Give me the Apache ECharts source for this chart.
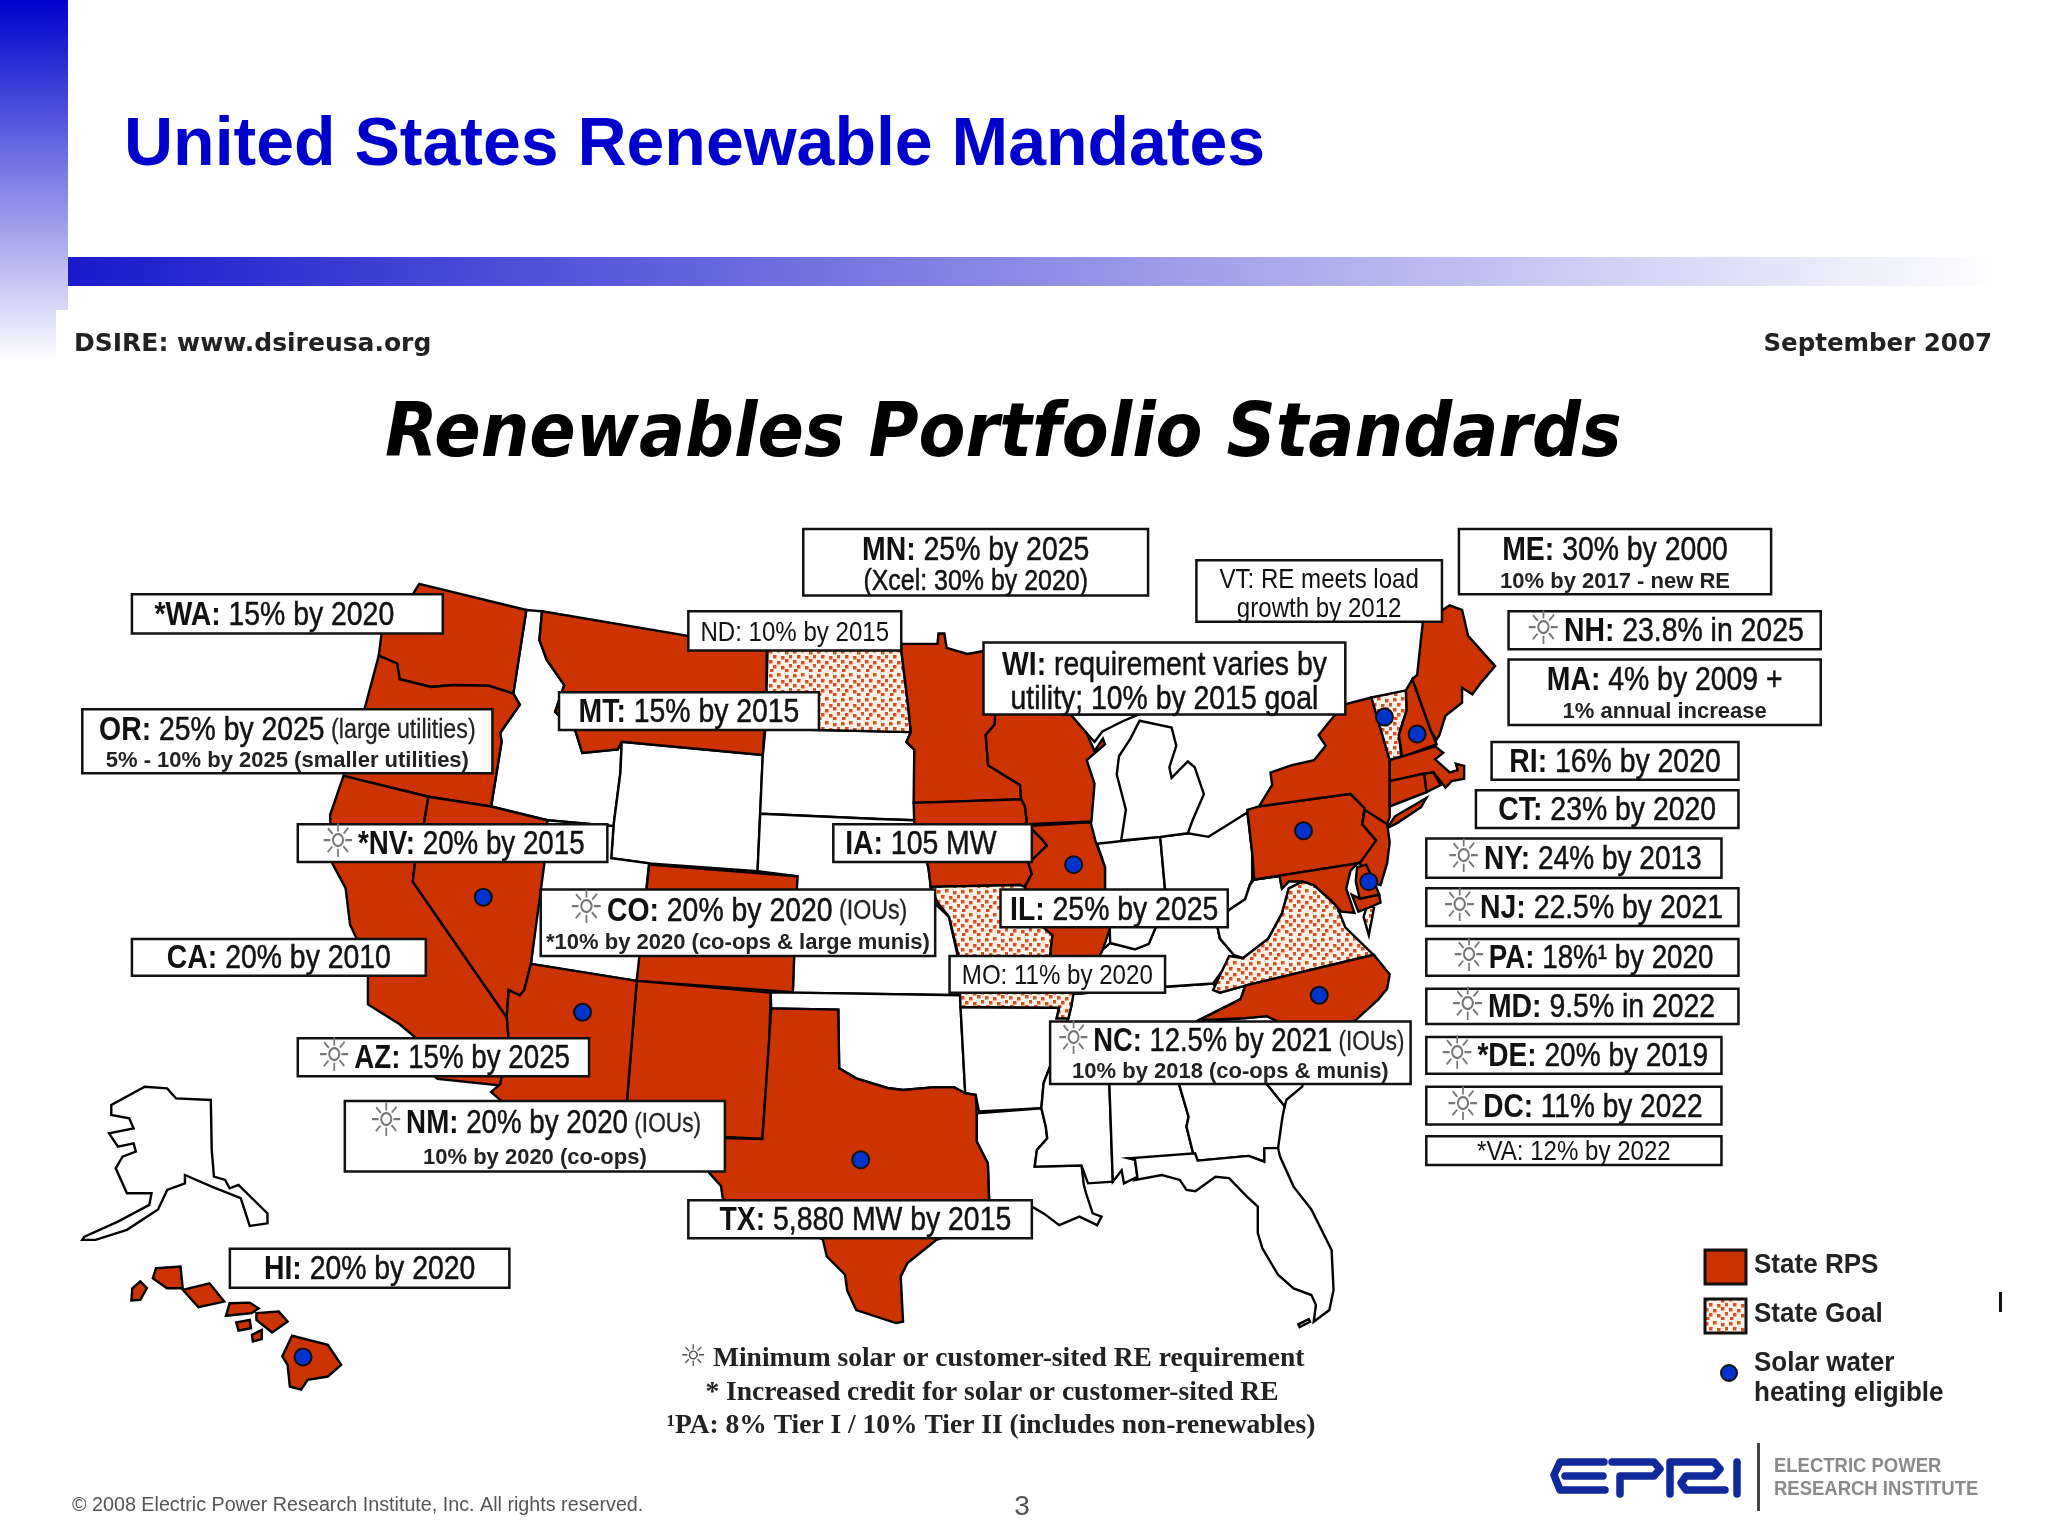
<!DOCTYPE html>
<html>
<head>
<meta charset="utf-8">
<title>United States Renewable Mandates</title>
<style>html,body{margin:0;background:#fff}#main{width:2048px;height:1536px}</style>
<script src="https://cdn.jsdelivr.net/npm/echarts@6/dist/echarts.min.js"></script>
</head>
<body>
<div id="main"></div>
<script>
// which state belongs to which category
const rpsStates = ['WA','OR','CA','NV','MT','MN','WI','IA','IL','AZ','NM','CO','TX','NY','PA','NJ','MD','DE','ME','NH','MA','CT','RI','NC','HI']
const goalStates = ['ND','MO','VA','VT']
// solar water heating eligible markers, map units
const solarNames = ['NV','AZ','TX','HI','IL','PA','NC','VT','NH','DE']
const solarPoints = [[370,687],[446,775],[659,888],[232,1039],[822,662],[998,636],[1010,762],[1060,549],[1085,562],[1048,675]]

// callout text
const calloutNames = ['*WA','OR','*NV','CO','CA','AZ','NM','TX','HI','MN','ND','MT','IA','IL','MO','WI','VT','NC','ME','NH','MA','RI','CT','NY','NJ','PA','MD','*DE','DC','*VA']
const calloutMain = ['15% by 2020','25% by 2025','20% by 2015','20% by 2020','20% by 2010','15% by 2025','20% by 2020','5,880 MW by 2015','20% by 2020','25% by 2025','10% by 2015','15% by 2015','105 MW','25% by 2025','11% by 2020','requirement varies by','RE meets load','12.5% by 2021','30% by 2000','23.8% in 2025','4% by 2009 +','16% by 2020','23% by 2020','24% by 2013','22.5% by 2021','18%¹ by 2020','9.5% in 2022','20% by 2019','11% by 2022','12% by 2022']
const calloutTail = {OR:'(large utilities)',CO:'(IOUs)',NM:'(IOUs)',NC:'(IOUs)'}
const calloutNote = {OR:'5% - 10% by 2025 (smaller utilities)',CO:'*10% by 2020 (co-ops & large munis)',NM:'10% by 2020 (co-ops)',NC:'10% by 2018 (co-ops & munis)',ME:'10% by 2017 - new RE',MA:'1% annual increase'}
const calloutSecond = {MN:'(Xcel: 30% by 2020)',WI:'utility; 10% by 2015 goal',VT:'growth by 2012'}
const sunStates = ['*NV','CO','AZ','NM','NC','NH','NY','NJ','PA','MD','*DE','DC']
const plainStates = ['ND','MO','VT','*VA']

const legendLabels = ['State RPS','State Goal','Solar water','heating eligible']
const footnotes = ['Minimum solar or customer-sited RE requirement','* Increased credit for solar or customer-sited RE','¹PA: 8% Tier I / 10% Tier II (includes non-renewables)']

// callout boxes in map units: x1,y1,x2,y2
const calloutBoxes = [[101,455,339,485],[63,543,377,592],[228,631,465,660],[414,681,716,732],[101,719,326,747],[228,795,451,824],[264,843,555,897],[527,919,790,948],[176,956,390,986],[615,405,879,456],[527,468,690,498],[428,530,627,559],[638,631,790,660],[766,681,940,710],[727,732,892,760],[753,492,1030,547],[916,429,1104,476],[804,782,1080,830],[1117,405,1356,455],[1155,468,1394,497],[1155,505,1394,555],[1142,568,1331,597],[1130,605,1331,634],[1092,642,1318,672],[1092,680,1331,709],[1092,719,1331,747],[1092,757,1331,784],[1092,794,1318,822],[1092,832,1318,861],[1092,870,1318,892]]
const calloutShift = {'*WA':-10,IA:-9,TX:4}
const calloutSquash = {NC:0.83,NM:0.84,'*NV':0.84,AZ:0.84,PA:0.84,DC:0.85,'*DE':0.85,NY:0.85}

// state outlines traced in map units (1568 x 1176 sheet, y down)
const stateShapes = {
  ID: [[[403,467],[415,468],[413,490],[418.5,505],[432,524.5],[425,545],[440.7,560],[445.8,576.4],[473,573.7],[476,568],[475,591.5],[469.7,632.5],[419,628],[376,617.5],[384,568],[383,561],[398,539.5],[393,531]]],
  WY: [[[476,568],[584,578],[582,623],[580,667],[497,661],[468,657],[469.7,632.5],[475,591.5]]],
  UT: [[[419,628],[469.7,632.5],[468,657],[497,661],[495,680],[490,735],[487.5,751],[406.5,738]]],
  SD: [[[584,578],[586,558],[697.4,560.5],[694,568],[700,574],[700,628],[672,627],[582,623]]],
  NE: [[[582,623],[672,627],[700,628],[710.8,664],[713,680],[716,692],[609,692],[610.5,671],[580,667]]],
  KS: [[[609,692],[716,692],[726.6,702],[733,731],[735.4,762],[607,760]]],
  OK: [[[590,760],[607,760],[735.4,762],[735.8,778],[739,837],[730.7,832.5],[713.6,832.5],[691.4,834.5],[679.4,833],[655.5,825.6],[642.5,818],[641.8,773],[590.5,772]]],
  AR: [[[735.4,771],[810.9,771.6],[809,779.7],[818,779.7],[802.4,820.5],[799,829.4],[797.3,848.5],[749.5,851],[747,838.3],[739,837],[735.8,778]]],
  LA: [[[747.8,852.4],[797.3,848.5],[800.7,862.6],[801.8,871.5],[793.9,880.4],[792.2,893.2],[828,892.4],[829.8,907],[831.5,913.6],[836.6,929],[843.4,931.5],[840,938],[826.4,931.5],[811,938],[799,929],[790.5,924],[757.3,918.7],[756.3,890.6],[747.8,874]]],
  MS: [[[802.4,820.5],[849,820],[852,904.7],[833,906],[828,892.4],[792.2,893.2],[793.9,880.4],[801.8,871.5],[800.7,862.6],[797.3,848.5],[799,829.4]]],
  AL: [[[849,820],[899,820],[903,831],[910,855],[908.4,862.6],[913.5,883],[916,887],[866,887],[869,888],[870.8,901],[860.5,906],[858.8,896],[852,904.7]]],
  GA: [[[899,820],[960,820],[971.6,832],[983.6,847],[981.9,855],[978.5,879],[968,879],[968,889.4],[956,885],[917,888.6],[913.5,883],[908.4,862.6],[910,855],[903,831]]],
  SC: [[[925,782],[970,778],[1005,795],[997,832],[985,842],[983.6,847],[971.6,832],[960,820],[925,800]]],
  FL: [
    [[917,888.6],[956,885],[968,889.4],[968,879],[978.5,879],[980,885.5],[990.4,908.5],[1004,926],[1019.5,957],[1021,987.6],[1017.8,1003],[1005.8,1012],[1007.5,999],[1004,991.5],[990.4,986.4],[978.5,976],[966.5,955.7],[963,944],[963,923.8],[954.5,916],[941,902],[930.6,900.9],[915.2,912],[908.4,911],[903.3,903.4],[889.6,899.6],[869,903.4],[870.8,901],[869,888],[864,886.8],[915,883]],
    [[994,1014],[1002,1010],[1003,1012],[995,1016]]
  ],
  TN: [[[821,761],[891.8,755.5],[928.8,753],[934,760],[953.4,754.6],[949.9,765],[918,781],[904,795],[850,820],[802.4,820.5],[818,779.7],[820.5,769]]],
  KY: [[[893,695],[920,700],[941,696.7],[932.3,710.4],[934,718.6],[944.6,731],[928.8,753],[891.8,755.5],[821,761],[835,745],[844.4,726.8],[850,722],[869,726.8],[879.5,722.7],[884.7,710.4]]],
  IN: [[[840,646],[888.3,640.7],[891.8,679],[893,695],[884.7,710.4],[879.5,722.7],[869,726.8],[850,722],[849.6,711.7],[846,680],[846,664]]],
  OH: [[[888.3,640.7],[909.4,638],[925.3,640.7],[955,622],[958.7,653],[958.7,673.5],[956.9,677.6],[953.3,688.5],[941,696.7],[920,700],[893,695],[891.8,679]]],
  WV: [[[960,673.5],[979.7,670.7],[981.5,680.3],[986.7,674.8],[997.3,674.8],[986.7,680.3],[981.5,699.4],[971,718.6],[951.6,733.6],[944.6,731],[934,718.6],[932.3,710.4],[941,696.7],[953.3,688.5],[956.9,677.6]]],
  MI: [
    [[872.5,551.8],[897,557],[900.6,571],[895.3,587.4],[897,595.6],[909.4,583],[914.7,587.4],[921.7,608],[912.9,628.4],[909.4,638],[888.3,640.7],[858.4,643.4],[862,620],[855,593],[856.7,579],[865.5,565.5]],
    [[819.7,549],[832,561.4],[838,568],[844,560],[860,552],[872,547],[819.7,547]]
  ],
  AK: [[[110.8,832],[128,833.3],[134.8,841],[161.4,842.2],[162.1,880.5],[163.8,900.9],[172.4,903.4],[175.8,909.8],[182.6,907.2],[204.8,929],[204.8,936.6],[191.2,938.6],[184.3,917.4],[162.1,908.5],[141.6,899.6],[141.6,906],[128,911],[121,926],[97.2,941.6],[73.2,949.3],[63,949.3],[64.7,946.8],[90.3,935.3],[114.3,922.5],[116,913.6],[97.2,913.6],[88.6,894.5],[93.8,885.6],[104,881.7],[102.3,875.4],[90.3,878],[83.5,867.7],[102.3,863.9],[98.9,856.2],[85.2,853.7],[85.2,846]]],
  WA: [[[321,447],[403,467],[393,531],[374,525],[347,524.5],[330,526],[306,520],[304,508],[290,502],[292,486],[290,455],[316,455]]],
  OR: [[[290,502],[304,508],[306,520],[330,526],[347,524.5],[374,525],[393,531],[398,539.5],[383,561],[384,568],[376,617.5],[328,610],[263,594],[270,570],[280,539.5]]],
  CA: [[[263,594],[328,610],[324.5,631],[317.6,661],[316,675],[388,779],[389.4,795],[383,831],[335,826],[330,822],[317.6,794],[305.7,784],[281.7,769],[281.7,747],[273,718.6],[268,708],[264.6,680],[254.4,661],[252.7,624]]],
  NV: [[[328,610],[376,617.5],[419,628],[416.8,661],[406.5,737.7],[401.4,758],[398,762],[389.4,758],[388,779],[316,675],[317.6,661],[324.5,631]]],
  MT: [[[415,468],[587,497],[587,530],[584,578],[476,568],[473,573.7],[445.8,576.4],[440.7,560],[425,545],[432,524.5],[418.5,505],[413,490]]],
  ND: [[[587.7,497],[690,497],[695,538],[697.4,560.5],[586,558]]],
  CO: [[[497,662],[610.5,671],[607,759.6],[487.5,751]]],
  NM: [[[487.5,751],[590,760],[588.8,804],[583.7,872],[510,868],[510,880],[482,876],[480,843]]],
  AZ: [[[406.5,738],[487.5,751],[480,843],[482,876],[440,875],[384,843],[376,836],[383,830],[389.4,795],[388,779],[389.4,758],[398,762],[401.4,758]]],
  TX: [[[590.5,772],[641.8,773],[642.5,818],[655.5,825.6],[679.4,833],[691.4,834.5],[713.6,832.5],[730.7,832.5],[739,837],[747,838.3],[747.8,852.4],[747.8,874],[756.3,890.6],[757.3,918.7],[760,935],[717,949.3],[694.8,967],[689.6,977.4],[691.4,1012],[686,1013],[655.5,1003],[648.6,988],[647,976],[633,962],[630,949],[600,935],[575,925],[553.5,918],[552,908],[543,898],[538,871],[583.7,872]]],
  MN: [[[690,498],[690.4,493],[717.8,493],[718.5,485],[723,485],[724.8,496],[740.6,500.7],[753,498.5],[775,510],[762,545],[761.7,554.5],[754.7,562.7],[756.5,586],[781,601],[781.8,612],[699.5,614.7],[700,574],[694,568],[697.4,560.5],[695,538]]],
  WI: [[[762,545],[819.7,547],[832,561.4],[838,575],[844.4,565.5],[846,570],[832,582],[838,600],[835.6,629],[786.3,631],[784.6,617],[781.8,612],[781,601],[756.5,586],[754.7,562.7],[761.7,554.5]]],
  IA: [[[699.5,614.7],[781.8,612],[784.6,617.4],[786.3,631],[798.6,643.4],[801.5,647.5],[791.6,657],[787.4,661],[790,669],[784.6,679],[781,677.6],[712.5,679],[710.8,664],[700,630]]],
  IL: [[[786.3,631],[791.6,632],[835,629.5],[839,644.8],[846,664],[846,680],[849.6,711.7],[844.4,726.8],[835,745],[820,745],[804,731],[805.7,716],[798.6,710],[784.6,679],[790,669],[787.4,661],[791.6,657],[801.5,647.5],[798.6,643.4]]],
  MO: [[[712.5,679],[781,677.6],[784.6,679],[798.6,710],[805.7,716],[804,731],[822,760],[820.5,769],[818,779.7],[809,779.7],[810.9,771.6],[735.4,771],[733.6,731],[726.6,702],[717.8,691]]],
  VA: [
    [[928.8,758],[941,732],[951.6,733.6],[971,718.6],[981.5,699.4],[986.7,680.3],[997.3,674.8],[1006,677.6],[1023.7,694],[1030,710],[1050,729.5],[1051.8,731],[953.4,754.6],[934,760]],
    [[1047,692],[1052,695],[1048,716],[1044,702]]
  ],
  NC: [[[1051.8,731],[1064,746],[1062,757],[1055,765.6],[1038,781],[1005,795],[970,778],[953,779.6],[918,781],[949.9,765],[953.4,754.6]]],
  PA: [[[955,620],[963.9,617.4],[1034,607.8],[1044.8,618.8],[1043,631],[1053.6,643.4],[1046.5,657],[1039.5,661],[960.3,673.5],[958.7,653]]],
  NY: [
    [[963.9,617.4],[974,601],[972.7,591.5],[988.5,586],[1006,582],[1015,571],[1009.6,562.7],[1018.4,551.8],[1029,539.5],[1050,534],[1064,582],[1064,625.6],[1062,631],[1043,631],[1044.8,618.8],[1034,607.8]],
    [[1062,634],[1068,625],[1092,611],[1088,618],[1070,630]]
  ],
  VT: [[[1050,534],[1076.4,528.6],[1077,543.6],[1071,562.7],[1073,579],[1064,582]]],
  NH: [[[1076.4,528.6],[1081.4,520],[1095.6,559.8],[1100,569.8],[1073.5,579.7],[1071,562.7],[1077,543.6]]],
  ME: [[[1109.9,463.5],[1119.4,466.9],[1124,486.8],[1144.7,510],[1133.6,523],[1127.3,531.6],[1119.4,526.6],[1119.4,538],[1106.7,548],[1102,563],[1099.7,566.5],[1095.6,559.8],[1081.4,520],[1085,516.7],[1089.3,476.8]]],
  MA: [[[1064,582],[1072,579.7],[1098.8,571.4],[1105,576.4],[1098.8,581.4],[1109.9,591.4],[1116,589.7],[1114.6,584.7],[1121,586.4],[1121,596.3],[1111.4,598],[1106.7,603],[1097.5,591.5],[1090.5,592.3],[1064,598]]],
  CT: [[[1064,598],[1090.5,592.3],[1092.2,606.5],[1064,617.4]]],
  RI: [[[1090.5,592.3],[1097.5,591.5],[1103,601],[1092.2,606.5]]],
  NJ: [[[1044.8,620],[1062,631],[1064,644.8],[1062,661],[1057,677.6],[1050,676],[1041,661],[1053.6,643.4],[1043,631]]],
  MD: [
    [[960.3,673.5],[1039.5,661],[1034,666.6],[1030.7,680.3],[1037,699],[1027,698],[1020,690],[1006,677.6],[997.3,674.8],[986.7,674.8],[981.5,680.3],[979.7,670.7]],
    [[1041,688],[1056,685],[1057,691],[1048,695],[1040,698],[1035,685]]
  ],
  DE: [[[1039,664],[1046,662],[1052,675],[1056,685],[1041,688],[1038,675]]],
  HI: [
    [[107.4,981],[112.5,986.3],[107.4,995.2],[100.6,995.7],[101.3,986.3]],
    [[119.4,971],[138.2,969.7],[139.9,986.3],[127.9,986.3],[117,978.6]],
    [[139.9,987.5],[160.4,982.5],[171.7,996.5],[151.9,1000.8]],
    [[175.8,997.8],[191.2,997.3],[198,1001.6],[192.9,1005.4],[173,1007.4]],
    [[196.3,1005.4],[213.4,1004.1],[220.2,1011.8],[208.3,1020.2],[196.3,1010.5]],
    [[180.9,1012.5],[191.2,1010.5],[192.2,1016.9],[182.6,1018.7]],
    [[192.9,1022],[200.4,1018.2],[200.4,1025.3],[193.6,1027]],
    [[223.6,1022.7],[251,1029.6],[261.2,1045],[251,1053.9],[235.6,1056.4],[230.5,1064],[221.9,1061.5],[220.2,1045],[216.1,1038.5]]
  ]
}

const SANS = '"Liberation Sans"'
const RED = '#cc3300'
const BLUE = '#0033cc'
const K = 2048 / 1568

// dotted fill for State Goal
const makeGoalPattern = () => {
  const c = document.createElement('canvas')
  c.width = 24
  c.height = 24
  const g = c.getContext('2d')
  g.fillStyle = '#fff4ec'
  g.fillRect(0, 0, 24, 24)
  g.fillStyle = '#dd4f1e'
  const dots = [[1,2],[9,1],[17,3],[5,7],[13,8],[21,7],[1,12],[9,13],[17,11],[5,17],[13,18],[21,16],[2,21],[17,21]]
  dots.forEach(d => g.fillRect(d[0], d[1], 3.5, 3.5))
  return {image: c, repeat: 'repeat'}
}
const goalFill = makeGoalPattern()

const features = Object.keys(stateShapes).map(name => ({
  type: 'Feature',
  properties: {name: name},
  geometry: {type: 'MultiPolygon', coordinates: stateShapes[name].map(r => [r])}
}))
echarts.registerMap('usa', {type: 'FeatureCollection', features: features})

const sx = 0.86
const calloutRich = (size, plain) => ({
  b: {fontFamily: SANS, fontWeight: plain ? 'normal' : 'bold', fontSize: size, fill: '#111'},
  m: {fontFamily: SANS, fontSize: size, fill: '#111', stroke: '#111', lineWidth: plain ? 0 : 0.5},
  t: {fontFamily: SANS, fontSize: 27, fill: '#222', stroke: '#222', lineWidth: 0.3},
  sun: {fontFamily: '"DejaVu Sans"', fontSize: 46, fill: '#777'}
})

const renderCallout = (params, api) => {
  const i = params.dataIndex
  const name = calloutNames[i]
  const key = name.replace('*', '')
  const box = calloutBoxes[i]
  const p1 = api.coord([box[0], box[1]])
  const p2 = api.coord([box[2], box[3]])
  const w = p2[0] - p1[0]
  const h = p2[1] - p1[1]
  const cx = p1[0] + w / 2 + (calloutShift[name] || 0) * K
  const plain = plainStates.indexOf(name) >= 0
  const size = plain ? 28 : 33
  const second = calloutSecond[key]
  const note = calloutNote[key]
  const twoLines = second || note

  let text = `{b|${name}:}{m| ${calloutMain[i]}}`
  if (sunStates.indexOf(name) >= 0) text = `{sun|☼} ` + text
  if (calloutTail[key]) text += `{t| ${calloutTail[key]}}`

  const children = [{
    type: 'rect',
    shape: {x: p1[0], y: p1[1], width: w, height: h},
    style: {fill: '#fff', stroke: '#111', lineWidth: 2.5}
  }, {
    type: 'text',
    x: cx,
    y: p1[1] + h * (twoLines ? 0.3 : 0.5) + 2,
    scaleX: calloutSquash[name] || sx,
    style: {text: text, rich: calloutRich(size, plain), align: 'center', verticalAlign: 'middle', fill: '#111'}
  }]
  if (second) {
    children.push({
      type: 'text',
      x: cx,
      y: p1[1] + h * 0.77 + 2,
      scaleX: sx,
      style: {text: second, fontFamily: SANS, fontSize: key === 'WI' ? 33 : (key === 'MN' ? 29 : 28), fill: '#111', stroke: '#111', lineWidth: key === 'VT' ? 0 : 0.5, align: 'center', verticalAlign: 'middle'}
    })
  }
  if (note) {
    children.push({
      type: 'text',
      x: cx,
      y: p1[1] + h * 0.79 + 1,
      style: {text: note, fontFamily: SANS, fontWeight: 'bold', fontSize: 22, fill: '#222', align: 'center', verticalAlign: 'middle'}
    })
  }
  return {type: 'group', children: children}
}

const label = (text, x, y, font, fill, align, scaleX) => ({
  type: 'text',
  x: x,
  y: y,
  scaleX: scaleX || 1,
  z: 5,
  style: {text: text, font: font, fill: fill, align: align || 'left', verticalAlign: 'middle'}
})

const logoLine = (points) => ({
  type: 'polyline',
  z: 5,
  shape: {points: points},
  style: {stroke: '#102a9c', lineWidth: 7.5, fill: 'none', lineCap: 'round', lineJoin: 'round'}
})

const slideParts = [
  {type: 'rect', shape: {x: 0, y: 0, width: 68, height: 362}, style: {fill: new echarts.graphic.LinearGradient(0, 0, 0, 1, [{offset: 0, color: '#0000cc'}, {offset: 1, color: '#ffffff'}])}},
  {type: 'rect', shape: {x: 56, y: 310, width: 20, height: 60}, style: {fill: '#fff'}},
  {type: 'rect', shape: {x: 68, y: 257, width: 1932, height: 29}, style: {fill: new echarts.graphic.LinearGradient(0, 0, 1, 0, [{offset: 0, color: '#1a1acc'}, {offset: 1, color: '#ffffff'}])}},
  label('United States Renewable Mandates', 124, 146, `bold 68px ${SANS}`, '#0000cc'),
  label('DSIRE: www.dsireusa.org', 74, 344, 'bold 25px "DejaVu Sans"', '#222'),
  label('September 2007', 1992, 344, 'bold 25px "DejaVu Sans"', '#222', 'right', 0.98),
  label('Renewables Portfolio Standards', 385, 437, 'italic bold 75px "DejaVu Sans"', '#000', 'left', 0.912),
  label('☼', 693, 1358, '30px "DejaVu Sans"', '#555', 'center'),
  label(footnotes[0], 713, 1359, 'bold 27.5px "Liberation Serif"', '#222'),
  label(footnotes[1], 992, 1393, 'bold 27.5px "Liberation Serif"', '#222', 'center'),
  label(footnotes[2], 991, 1426, 'bold 27.5px "Liberation Serif"', '#222', 'center'),
  {type: 'rect', z: 5, shape: {x: 1705, y: 1250, width: 41, height: 34}, style: {fill: RED, stroke: '#111', lineWidth: 3}},
  {type: 'rect', z: 5, shape: {x: 1705, y: 1299, width: 41, height: 34}, style: {fill: goalFill, stroke: '#111', lineWidth: 3}},
  {type: 'circle', z: 5, shape: {cx: 1729, cy: 1373, r: 8}, style: {fill: BLUE, stroke: '#111', lineWidth: 2}},
  label(legendLabels[0], 1754, 1265, `bold 28px ${SANS}`, '#222', 'left', 0.93),
  label(legendLabels[1], 1754, 1314, `bold 28px ${SANS}`, '#222', 'left', 0.93),
  label(legendLabels[2], 1754, 1363, `bold 28px ${SANS}`, '#222', 'left', 0.93),
  label(legendLabels[3], 1754, 1393, `bold 28px ${SANS}`, '#222', 'left', 0.93),
  {type: 'rect', z: 5, shape: {x: 1999, y: 1292, width: 3, height: 20}, style: {fill: '#111'}},
  label('© 2008 Electric Power Research Institute, Inc. All rights reserved.', 72, 1505, `20px ${SANS}`, '#555', 'left', 0.986),
  label('3', 1022, 1507, `28px ${SANS}`, '#555', 'center'),
  logoLine([[1604,1462],[1560,1462],[1554,1475],[1560,1490],[1605,1490]]),
  logoLine([[1565,1476],[1603,1476]]),
  logoLine([[1612,1462],[1654,1462],[1660,1469],[1654,1476],[1620,1476],[1620,1494]]),
  logoLine([[1670,1494],[1670,1462],[1714,1462],[1720,1469],[1714,1476],[1686,1476],[1681,1483],[1686,1490],[1725,1490]]),
  logoLine([[1737,1462],[1737,1494]]),
  {type: 'rect', z: 5, shape: {x: 1757, y: 1443, width: 3, height: 68}, style: {fill: '#444'}},
  label('ELECTRIC POWER', 1774, 1466, `bold 21px ${SANS}`, '#8a8a8a', 'left', 0.88),
  label('RESEARCH INSTITUTE', 1774, 1489, `bold 21px ${SANS}`, '#8a8a8a', 'left', 0.88)
]

const chart = echarts.init(document.getElementById('main'))
chart.setOption({
  animation: false,
  backgroundColor: '#fff',
  graphic: {elements: slideParts},
  geo: {
    map: 'usa',
    silent: true,
    aspectScale: 1,
    layoutCenter: ['50%', '50%'],
    layoutSize: 2048,
    boundingCoords: [[0, 0], [1568, 1176]],
    projection: {project: p => [p[0], p[1]], unproject: p => [p[0], p[1]]},
    label: {show: false},
    itemStyle: {areaColor: '#fff', borderColor: '#000', borderWidth: 2.4},
    regions: rpsStates.map(n => ({name: n, itemStyle: {areaColor: RED}}))
      .concat(goalStates.map(n => ({name: n, itemStyle: {areaColor: goalFill}})))
  },
  series: [{
    type: 'scatter',
    coordinateSystem: 'geo',
    silent: true,
    z: 3,
    symbolSize: 17,
    itemStyle: {color: BLUE, borderColor: '#111', borderWidth: 2, opacity: 1},
    data: solarPoints.map((p, i) => ({name: solarNames[i], value: p}))
  }, {
    type: 'custom',
    coordinateSystem: 'geo',
    silent: true,
    z: 4,
    clip: false,
    renderItem: renderCallout,
    data: calloutBoxes.map(b => [b[0], b[1]])
  }]
})
window.addEventListener('resize', () => {
  chart.resize()
})
</script>
</body>
</html>
